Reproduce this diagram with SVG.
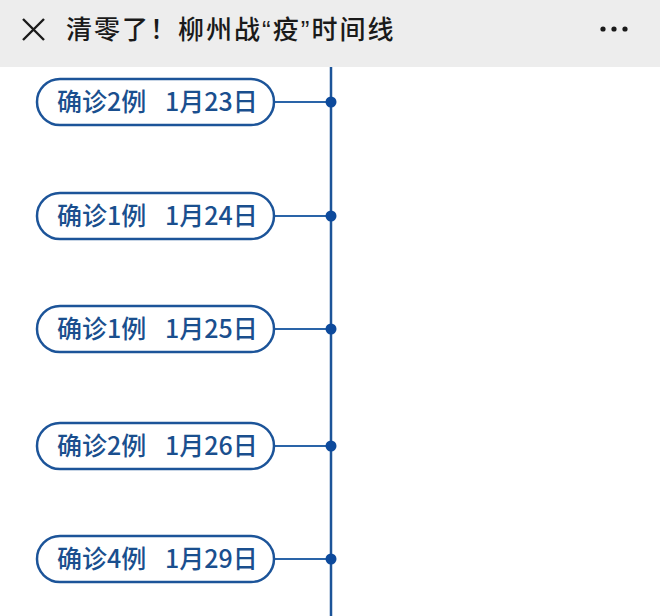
<svg xmlns="http://www.w3.org/2000/svg" width="660" height="616" viewBox="0 0 660 616">
<style>
.pill{fill:#fff;stroke:#1c5499;stroke-width:2.5}
.lbl{font-family:"Noto Sans CJK SC","Noto Sans",sans-serif;font-size:25px;font-weight:500;fill:#1a4f8e}
.link{stroke:#2a64a8;stroke-width:2}
.dot{fill:#0d4a9c}
.q{font-family:"Liberation Sans",sans-serif}
</style>
<rect x="0" y="0" width="660" height="616" fill="#ffffff"/>
<g id="header">
<rect x="0" y="0" width="660" height="67" fill="#ededed"/>
<path d="M23 19 L44 40 M44 19 L23 40" stroke="#1a1a1a" stroke-width="2.4" fill="none"/>
<text x="66" y="39" font-family="Noto Sans CJK SC,sans-serif" font-size="26" font-weight="500" letter-spacing="2" fill="#1a1a1a">清零了！柳州战<tspan class="q">“</tspan>疫<tspan class="q">”</tspan>时间线</text>
<circle cx="603" cy="29" r="2.6" fill="#1a1a1a"/>
<circle cx="614" cy="29" r="2.6" fill="#1a1a1a"/>
<circle cx="625" cy="29" r="2.6" fill="#1a1a1a"/>
</g>
<g id="connectors">
<line x1="331" y1="67" x2="331" y2="616" stroke="#1c5499" stroke-width="2.5"/>
<line class="link" x1="274" y1="102" x2="331" y2="102"/>
<line class="link" x1="274" y1="216" x2="331" y2="216"/>
<line class="link" x1="274" y1="329" x2="331" y2="329"/>
<line class="link" x1="274" y1="446" x2="331" y2="446"/>
<line class="link" x1="274" y1="559" x2="331" y2="559"/>
<circle class="dot" cx="331" cy="102" r="5.5"/>
<circle class="dot" cx="331" cy="216" r="5.5"/>
<circle class="dot" cx="331" cy="329" r="5.5"/>
<circle class="dot" cx="331" cy="446" r="5.5"/>
<circle class="dot" cx="331" cy="559" r="5.5"/>
</g>
<g id="n1"><rect class="pill" x="37" y="79" width="237" height="46" rx="23"/><text class="lbl" y="111"><tspan x="57">确诊2例</tspan><tspan x="165">1月23日</tspan></text></g>
<g id="n2"><rect class="pill" x="37" y="193" width="237" height="46" rx="23"/><text class="lbl" y="225"><tspan x="57">确诊1例</tspan><tspan x="165">1月24日</tspan></text></g>
<g id="n3"><rect class="pill" x="37" y="306" width="237" height="46" rx="23"/><text class="lbl" y="338"><tspan x="57">确诊1例</tspan><tspan x="165">1月25日</tspan></text></g>
<g id="n4"><rect class="pill" x="37" y="423" width="237" height="46" rx="23"/><text class="lbl" y="455"><tspan x="57">确诊2例</tspan><tspan x="165">1月26日</tspan></text></g>
<g id="n5"><rect class="pill" x="37" y="536" width="237" height="46" rx="23"/><text class="lbl" y="568"><tspan x="57">确诊4例</tspan><tspan x="165">1月29日</tspan></text></g>
</svg>
